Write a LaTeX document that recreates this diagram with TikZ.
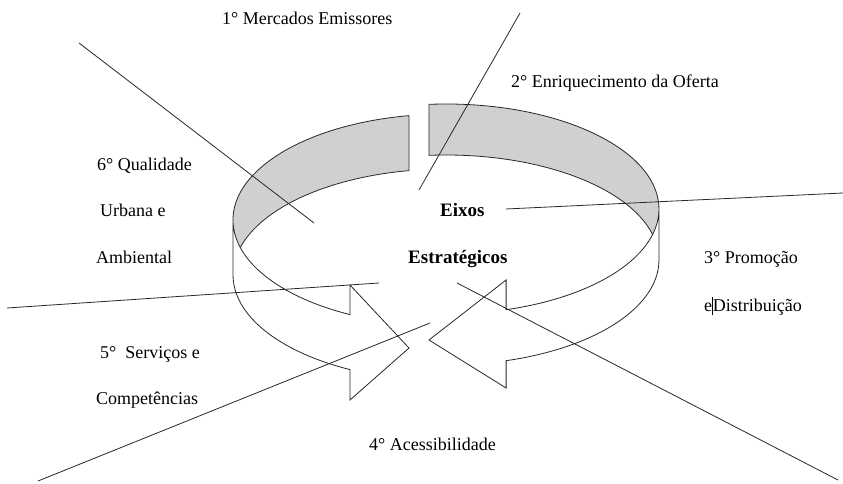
\documentclass[tikz,border=0pt]{standalone}
\usepackage{fontspec}
\setmainfont{Liberation Serif}
\definecolor{bandgray}{RGB}{208,208,208}
\definecolor{linegray}{RGB}{40,40,40}
\begin{document}
\begin{tikzpicture}[x=1pt,y=1pt,
  lbl/.style={anchor=base west,inner sep=0pt,font=\fontsize{18}{20}\selectfont},
  blbl/.style={anchor=base west,inner sep=0pt,font=\fontsize{19}{21}\selectfont\bfseries},
  edge/.style={draw=linegray,line width=0.8pt},
  band/.style={draw=linegray,line width=0.8pt,line join=miter},
  shade/.style={fill=bandgray,draw=none}]
\useasboundingbox (0,0) rectangle (843,483);
\fill[white] (0,0) rectangle (843,483);
% ---------- left arrow (E1 centre (446,263), E2 centre (446,208)) ----------
\path[shade] (409.0,367.39) arc[start angle=100,end angle=195,x radius=213pt,y radius=106pt]
  arc[start angle=165,end angle=100,x radius=213pt,y radius=106pt] -- cycle;
\draw[band] (409.0,367.39) arc[start angle=100,end angle=243.2,x radius=213pt,y radius=106pt]
  -- (350.0,198) -- (409,135) -- (350.0,83) -- (350.0,113.4)
  arc[start angle=243.2,end angle=180,x radius=213pt,y radius=106pt] -- (233,263);
\draw[band] (409.0,367.39) -- (409.0,312.39)
  arc[start angle=100,end angle=165,x radius=213pt,y radius=106pt];
% ---------- right arrow (E1 centre (446,274), E2 centre (446,223)) ----------
\path[shade] (428.9,378.66) arc[start angle=94.6,end angle=-14,x radius=213pt,y radius=105pt]
  arc[start angle=14,end angle=94.6,x radius=213pt,y radius=105pt] -- cycle;
\draw[band] (428.9,378.66) arc[start angle=94.6,end angle=-73.6,x radius=213pt,y radius=105pt]
  -- (506.1,203) -- (429,143) -- (506.1,95) -- (506.1,122.3)
  arc[start angle=-73.6,end angle=0,x radius=213pt,y radius=105pt] -- (659,274);
\draw[band] (428.9,378.66) -- (428.9,327.66)
  arc[start angle=94.6,end angle=14,x radius=213pt,y radius=105pt];
% ---------- dividing lines ----------
\coordinate (a1) at (79,440);  \coordinate (a2) at (314,260);
\coordinate (b1) at (520,470); \coordinate (b2) at (419,293);
\coordinate (c1) at (506,274); \coordinate (c2) at (843,290);
\coordinate (d1) at (7,175);   \coordinate (d2) at (379,200);
\coordinate (e1) at (430,160); \coordinate (e2) at (38,2);
\coordinate (f1) at (457,200); \coordinate (f2) at (838,3);
\draw[edge] (a1) -- (a2);
\draw[edge] (b1) -- (b2);
\draw[edge] (c1) -- (c2);
\draw[edge] (d1) -- (d2);
\draw[edge] (e1) -- (e2);
\draw[edge] (f1) -- (f2);
% ---------- labels ----------
\node[lbl] (t1) at (222,458) {1° Mercados Emissores};
\node[lbl] (t2) at (511,395) {2° Enriquecimento da Oferta};
\node[lbl] (t6a) at (97,313) {6° Qualidade};
\node[lbl] (t6b) at (100,267) {Urbana e};
\node[lbl] (t6c) at (96,220) {Ambiental};
\node[lbl] (t3a) at (704,220) {3° Promoção};
\node[lbl] (t3b) at (704,172) {e\rule[-4pt]{0.7pt}{18pt}Distribuição};
\node[blbl] (ex) at (440,267) {Eixos};
\node[blbl] (es) at (408,220) {Estratégicos};
\node[lbl] (t5a) at (100,125) {5°~ Serviços e};
\node[lbl] (t5b) at (96,79) {Competências};
\node[lbl] (t4) at (369,33) {4° Acessibilidade};
\end{tikzpicture}
\end{document}
